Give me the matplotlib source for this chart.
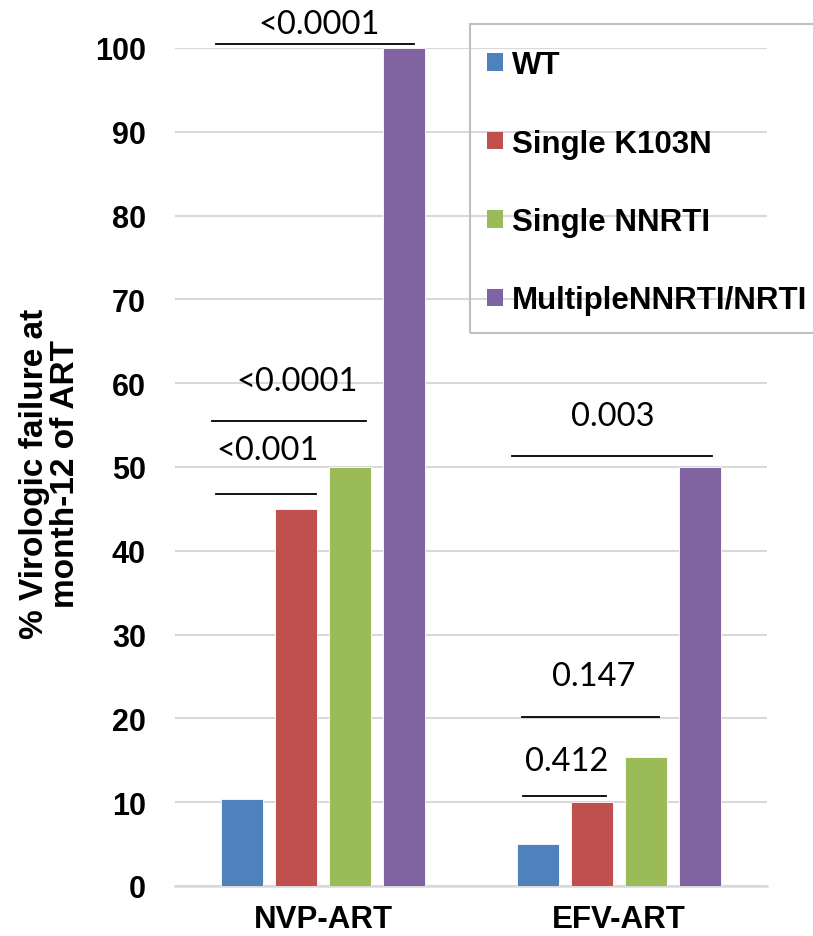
import matplotlib
matplotlib.use("Agg")
import matplotlib.pyplot as plt
from matplotlib.patches import Patch, Rectangle
import numpy as np

# regimen groups and resistance categories
groups = ['NVP-ART', 'EFV-ART']
categories = ['WT', 'Single K103N', 'Single NNRTI', 'MultipleNNRTI/NRTI']
colors = ['#4F81BD', '#C0504D', '#9BBB59', '#8064A2']

# % virologic failure at month 12, one list per category (NVP, EFV)
wt = [10.4, 5.0]
single_k103n = [45.0, 10.0]
single_nnrti = [50.0, 15.4]
multiple = [100.0, 50.0]
y_ticks = [0, 10, 20, 30, 40, 50, 60, 70, 80, 90, 100]

# p-value brackets
p_labels = ['<0.0001', '<0.0001', '<0.001', '0.003', '0.147', '0.412']
# (x start, x end, line height, text x, text y)
bracket_pos = [
    (-0.362, 0.307, 100.5, -0.012, 102.9),
    (-0.375, 0.145, 55.5, -0.088, 60.3),
    (-0.361, -0.024, 46.8, -0.186, 52.0),
    (0.638, 1.314, 51.3, 0.980, 56.1),
    (0.672, 1.135, 20.2, 0.916, 25.1),
    (0.676, 0.956, 10.7, 0.824, 14.9),
]

plt.rcParams['font.family'] = ['Liberation Sans', 'DejaVu Sans']

W, H = 813, 937
fig = plt.figure(figsize=(W / 100, H / 100), dpi=100)
ax = fig.add_axes([175 / W, 1 - 887 / H, 592 / W, 838 / H])

series = [wt, single_k103n, single_nnrti, multiple]
x = np.arange(len(groups))
step = 0.1824
width = 0.145
for i, (vals, col) in enumerate(zip(series, colors)):
    offset = (i - 1.5) * step
    ax.bar(x + offset, vals, width, color=col, zorder=3,
           edgecolor='#ffffff', linewidth=0.6)

ax.set_xlim(-0.5, 1.5)
ax.set_ylim(0, 100)
ax.set_yticks(y_ticks)
ax.set_xticks(x)
ax.set_xticklabels(groups, fontsize=22.5, fontweight='bold')
for lab in ax.get_yticklabels():
    lab.set_fontsize(22)
    lab.set_fontweight('bold')
ax.tick_params(axis='y', length=0, pad=21)
ax.tick_params(axis='x', length=0, pad=13)

ax.yaxis.grid(True, color='#d9d9d9', linewidth=1.5, zorder=0)
ax.set_axisbelow(True)
for side in ['left', 'right', 'top']:
    ax.spines[side].set_visible(False)
ax.spines['bottom'].set_color('#d9d9d9')
ax.spines['bottom'].set_linewidth(1.8)

for label, (x0, x1, yl, xt, yt) in zip(p_labels, bracket_pos):
    ax.plot([x0, x1], [yl, yl], color='black', linewidth=1.3,
            clip_on=False, zorder=4)
    ax.text(xt, yt, label, ha='center', va='center', fontsize=23.5,
            family='Lato', clip_on=False)

fig.text(50 / W, 1 - 474 / H,
         '% Virologic failure at\nmonth-12 of ART',
         rotation=90, ha='center', va='center', multialignment='center',
         fontsize=24, fontweight='bold', linespacing=1.02)

# legend entries without frame; the box runs off the right edge
handles = [Patch(facecolor=c, edgecolor='none') for c in colors]
fig.legend(handles, categories, loc='upper left',
           bbox_to_anchor=(470 / W, 1 - 34 / H),
           borderaxespad=0, frameon=False,
           prop={'size': 22.5, 'weight': 'bold'},
           handlelength=0.5, handleheight=0.5, handletextpad=0.3,
           labelspacing=1.55, borderpad=0.55)
fig.patches.append(Rectangle((470 / W, 1 - 334 / H), 360 / W, 309 / H,
                             transform=fig.transFigure, fill=False,
                             edgecolor='#bfbfbf', linewidth=1.5))

fig.savefig('out.png', dpi=100)
